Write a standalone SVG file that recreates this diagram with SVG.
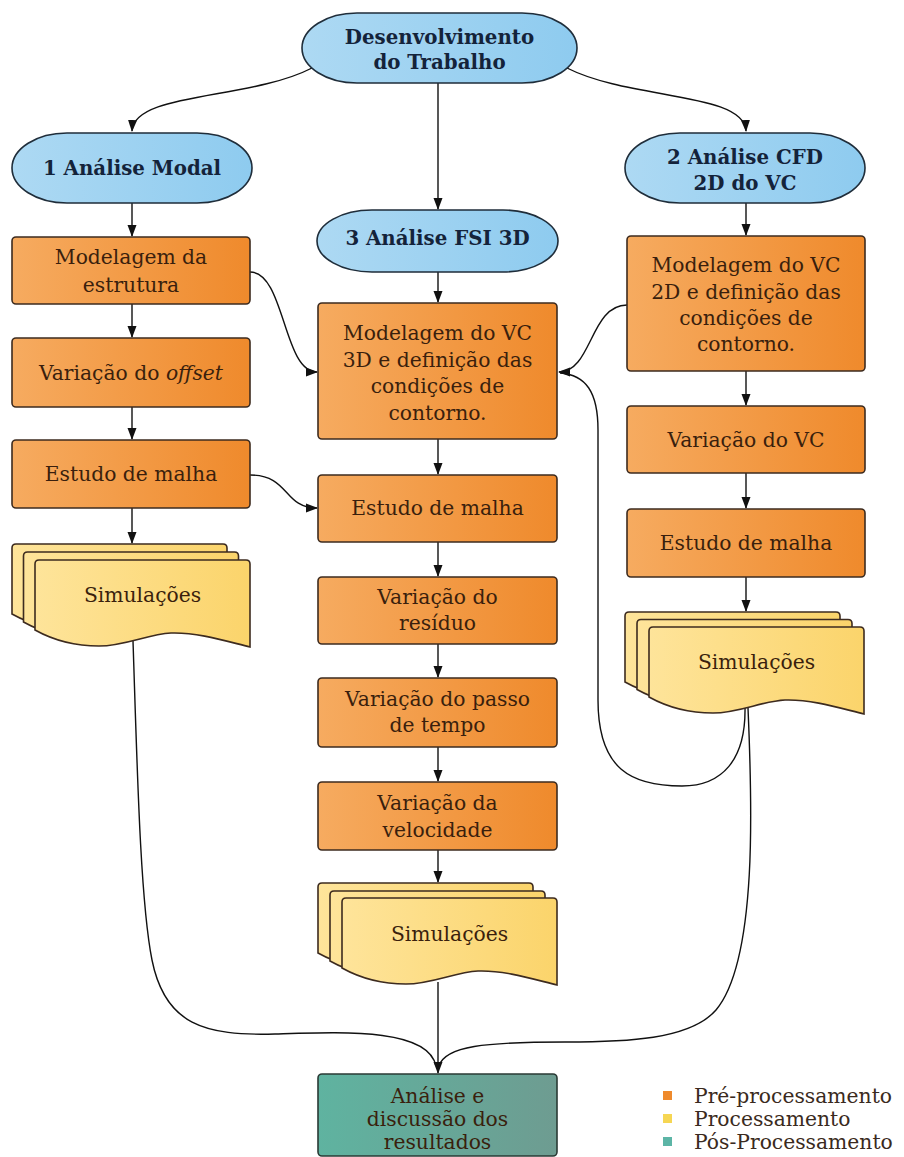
<svg xmlns="http://www.w3.org/2000/svg" width="904" height="1157" viewBox="0 0 904 1157">
<style>
.t{font-family:"DejaVu Serif","Liberation Serif",serif;font-size:20.3px;fill:#3a1f0d;text-anchor:middle}
.b{font-family:"DejaVu Serif","Liberation Serif",serif;font-size:19.8px;font-weight:bold;fill:#14233a;text-anchor:middle}
.lg{font-family:"DejaVu Serif","Liberation Serif",serif;font-size:20.3px;fill:#3a2a20}
.or{fill:url(#gOr);stroke:#3d2b1f;stroke-width:1.6}
.ye{fill:url(#gYe);stroke:#3d2b1f;stroke-width:1.6}
.bl{fill:url(#gBl);stroke:#1f2d3a;stroke-width:1.6}
.te{fill:url(#gTe);stroke:#2a3a35;stroke-width:1.6}
.c{fill:none;stroke:#111;stroke-width:1.4}
</style>
<defs>
<linearGradient id="gOr" x1="0" y1="0" x2="1" y2="0"><stop offset="0" stop-color="#f6ab60"/><stop offset="1" stop-color="#ef8a2c"/></linearGradient>
<linearGradient id="gYe" x1="0" y1="0" x2="1" y2="0"><stop offset="0" stop-color="#fee49a"/><stop offset="1" stop-color="#fbd46b"/></linearGradient>
<linearGradient id="gBl" x1="0" y1="0" x2="1" y2="0"><stop offset="0" stop-color="#add9f3"/><stop offset="1" stop-color="#8ecbef"/></linearGradient>
<linearGradient id="gTe" x1="0" y1="0" x2="1" y2="0"><stop offset="0" stop-color="#5fb3a0"/><stop offset="1" stop-color="#6e9c91"/></linearGradient>
<marker id="ar" markerUnits="userSpaceOnUse" markerWidth="12" markerHeight="12" viewBox="0 0 12 12" refX="11" refY="6" orient="auto"><path d="M0,1.5 L12,6 L0,10.5 Z" fill="#111"/></marker>
<path id="sh" d="M0,4 Q0,0 4,0 L211,0 Q215,0 215,4 L215,87 C194,82 163,72 136,73 C113,74 90,86 64,86 C40,86 18,80 0,70 Z"/>
</defs>

<g id="connectors">
<path class="c" d="M312,68 C250,100 134,92 132,131" marker-end="url(#ar)"/>
<path class="c" d="M438,83 L438,209" marker-end="url(#ar)"/>
<path class="c" d="M567,68 C630,100 744,92 746,131" marker-end="url(#ar)"/>
<path class="c" d="M132,203 L132,236" marker-end="url(#ar)"/>
<path class="c" d="M132,304 L132,337" marker-end="url(#ar)"/>
<path class="c" d="M132,407 L132,439" marker-end="url(#ar)"/>
<path class="c" d="M132,508 L132,543" marker-end="url(#ar)"/>
<path class="c" d="M438,272 L438,302" marker-end="url(#ar)"/>
<path class="c" d="M438,439 L438,474" marker-end="url(#ar)"/>
<path class="c" d="M438,542 L438,576" marker-end="url(#ar)"/>
<path class="c" d="M438,644 L438,677" marker-end="url(#ar)"/>
<path class="c" d="M438,747 L438,781" marker-end="url(#ar)"/>
<path class="c" d="M438,850 L438,882" marker-end="url(#ar)"/>
<path class="c" d="M746,203 L746,235" marker-end="url(#ar)"/>
<path class="c" d="M746,371 L746,405" marker-end="url(#ar)"/>
<path class="c" d="M746,473 L746,508" marker-end="url(#ar)"/>
<path class="c" d="M746,577 L746,611" marker-end="url(#ar)"/>
<path class="c" d="M250,272 C285,272 283,372 317,372" marker-end="url(#ar)"/>
<path class="c" d="M250,475 C290,475 283,508 317,508" marker-end="url(#ar)"/>
<path class="c" d="M627,305 C590,305 592,372 559,372" marker-end="url(#ar)"/>
<path class="c" d="M745,707 C746,760 722,786 682,786 C632,786 598,770 598,700 L598,430 C598,392 586,375 560,373"/>
<path class="c" d="M133,641 C137,760 140,900 152,960 C165,1025 205,1036 275,1034 C345,1032 428,1028 436,1066"/>
<path class="c" d="M748,708 C752,800 758,960 716,1010 C690,1040 625,1042 565,1042 C485,1042 445,1046 439,1066"/>
<path class="c" d="M438,982 L438,1073" marker-end="url(#ar)"/>
</g>

<g id="n_desenvolvimento">
<rect class="bl" x="302" y="13" width="275" height="70" rx="55" ry="35"/>
<text class="b" x="439.5" y="44">Desenvolvimento</text>
<text class="b" x="439.5" y="69">do Trabalho</text>
</g>

<g id="n_modal">
<rect class="bl" x="12" y="133" width="240" height="70" rx="55" ry="35"/>
<text class="b" x="132" y="175">1 Análise Modal</text>
</g>
<g id="n_mod_estrutura">
<rect class="or" x="12" y="237" width="238" height="67" rx="4"/>
<text class="t" x="131" y="264">Modelagem da</text>
<text class="t" x="131" y="292">estrutura</text>
</g>
<g id="n_offset">
<rect class="or" x="12" y="338" width="238" height="69" rx="4"/>
<text class="t" x="131" y="380">Variação do <tspan font-style="italic">offset</tspan></text>
</g>
<g id="n_malha_esq">
<rect class="or" x="12" y="440" width="238" height="68" rx="4"/>
<text class="t" x="131" y="481">Estudo de malha</text>
</g>
<g id="n_sim_esq">
<use href="#sh" class="ye" x="12" y="544"/>
<use href="#sh" class="ye" x="23.5" y="552"/>
<use href="#sh" class="ye" x="35" y="560"/>
<text class="t" x="142.5" y="602">Simulações</text>
</g>

<g id="n_fsi">
<rect class="bl" x="317" y="210" width="241" height="62" rx="55" ry="31"/>
<text class="b" x="437.5" y="245">3 Análise FSI 3D</text>
</g>
<g id="n_mod3d">
<rect class="or" x="318" y="303" width="239" height="136" rx="4"/>
<text class="t" x="437.5" y="340">Modelagem do VC</text>
<text class="t" x="437.5" y="366.5">3D e definição das</text>
<text class="t" x="437.5" y="393">condições de</text>
<text class="t" x="437.5" y="419.5">contorno.</text>
</g>
<g id="n_malha_centro">
<rect class="or" x="318" y="475" width="239" height="67" rx="4"/>
<text class="t" x="437.5" y="515">Estudo de malha</text>
</g>
<g id="n_residuo">
<rect class="or" x="318" y="577" width="239" height="67" rx="4"/>
<text class="t" x="437.5" y="604">Variação do</text>
<text class="t" x="437.5" y="630">resíduo</text>
</g>
<g id="n_passo">
<rect class="or" x="318" y="678" width="239" height="69" rx="4"/>
<text class="t" x="437.5" y="706">Variação do passo</text>
<text class="t" x="437.5" y="732">de tempo</text>
</g>
<g id="n_velocidade">
<rect class="or" x="318" y="782" width="239" height="68" rx="4"/>
<text class="t" x="437.5" y="810">Variação da</text>
<text class="t" x="437.5" y="837">velocidade</text>
</g>
<g id="n_sim_centro">
<use href="#sh" class="ye" x="318" y="883"/>
<use href="#sh" class="ye" x="330" y="891"/>
<use href="#sh" class="ye" x="342" y="898"/>
<text class="t" x="449.5" y="941">Simulações</text>
</g>

<g id="n_cfd">
<rect class="bl" x="625" y="133" width="240" height="70" rx="55" ry="35"/>
<text class="b" x="745" y="164">2 Análise CFD</text>
<text class="b" x="745" y="190">2D do VC</text>
</g>
<g id="n_mod2d">
<rect class="or" x="627" y="236" width="238" height="135" rx="4"/>
<text class="t" x="746" y="272">Modelagem do VC</text>
<text class="t" x="746" y="299">2D e definição das</text>
<text class="t" x="746" y="325">condições de</text>
<text class="t" x="746" y="351">contorno.</text>
</g>
<g id="n_var_vc">
<rect class="or" x="627" y="406" width="238" height="67" rx="4"/>
<text class="t" x="746" y="447">Variação do VC</text>
</g>
<g id="n_malha_dir">
<rect class="or" x="627" y="509" width="238" height="68" rx="4"/>
<text class="t" x="746" y="550">Estudo de malha</text>
</g>
<g id="n_sim_dir">
<use href="#sh" class="ye" x="625" y="612"/>
<use href="#sh" class="ye" x="637" y="619.5"/>
<use href="#sh" class="ye" x="649" y="627"/>
<text class="t" x="756.5" y="669">Simulações</text>
</g>

<g id="n_analise">
<rect class="te" x="318" y="1074" width="239" height="82" rx="4"/>
<text class="t" x="437.5" y="1103">Análise e</text>
<text class="t" x="437.5" y="1126">discussão dos</text>
<text class="t" x="437.5" y="1149">resultados</text>
</g>

<g id="legend">
<rect x="663" y="1091" width="9" height="9" fill="#ef8a2c"/>
<rect x="663" y="1114" width="9" height="9" fill="#f6d653"/>
<rect x="663" y="1137" width="9" height="9" fill="#5cb5a6"/>
<text class="lg" x="694" y="1103">Pré-processamento</text>
<text class="lg" x="694" y="1126">Processamento</text>
<text class="lg" x="694" y="1149">Pós-Processamento</text>
</g>
</svg>
